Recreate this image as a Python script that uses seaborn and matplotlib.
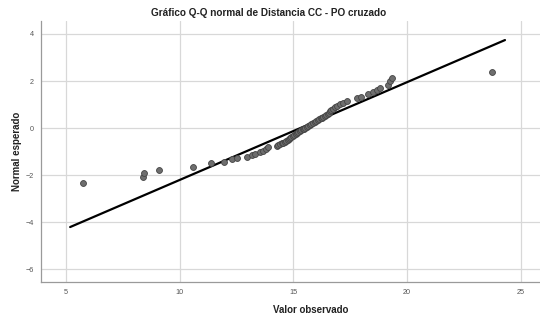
import numpy as np
import pandas as pd
import matplotlib
matplotlib.use("Agg")
import matplotlib.pyplot as plt
import seaborn as sns

# ==========================================
# datos (Q-Q normal)
# ==========================================
valor_observado = [
    5.73, 8.37, 8.44, 9.10, 10.60, 11.37, 11.96, 12.28, 12.53, 12.96,
    13.16, 13.33, 13.53, 13.67, 13.80, 13.90,
    14.26, 14.33, 14.41, 14.48, 14.55, 14.62, 14.68, 14.74, 14.80, 14.85,
    14.91, 14.97, 15.03, 15.09, 15.14, 15.20, 15.27, 15.34, 15.40, 15.46,
    15.52, 15.58, 15.64, 15.71, 15.78, 15.85, 15.93, 16.00, 16.07, 16.13,
    16.19, 16.26, 16.32, 16.38, 16.44, 16.50, 16.55, 16.60,
    16.66, 16.74, 16.82, 16.92, 17.04, 17.16, 17.34, 17.78, 17.95, 18.29,
    18.50, 18.66, 18.80, 19.17, 19.26, 19.32, 23.71,
]
normal_esperado = [
    -2.34, -2.06, -1.89, -1.77, -1.66, -1.50, -1.42, -1.33, -1.27, -1.21,
    -1.15, -1.08, -1.01, -0.95, -0.88, -0.82,
    -0.77, -0.73, -0.69, -0.65, -0.61, -0.57, -0.53, -0.49, -0.45, -0.41,
    -0.37, -0.33, -0.29, -0.25, -0.21, -0.17, -0.13, -0.09, -0.05, -0.02,
    0.02, 0.06, 0.10, 0.14, 0.17, 0.21, 0.25, 0.29, 0.33, 0.37,
    0.41, 0.45, 0.49, 0.53, 0.57, 0.61, 0.66, 0.71,
    0.76, 0.82, 0.88, 0.94, 1.01, 1.08, 1.16, 1.27, 1.34, 1.43,
    1.52, 1.61, 1.71, 1.84, 1.99, 2.12, 2.37,
]

# recta de referencia (extremos leidos)
recta_x = [5.18, 24.3]
recta_y = [-4.20, 3.74]

x_ticks = [5, 10, 15, 20, 25]
y_ticks = [-6, -4, -2, 0, 2, 4]

df = pd.DataFrame({"observado": valor_observado, "esperado": normal_esperado})
df_recta = pd.DataFrame({"x": recta_x, "y": recta_y})

# ==========================================
# grafico
# ==========================================
sns.set_theme(style="whitegrid")
plt.rcParams["font.family"] = ["Liberation Sans", "DejaVu Sans"]

fig = plt.figure(figsize=(5.4, 3.18), dpi=100)
ax = fig.add_axes([0.076, 0.112, 0.924, 0.822])

sns.lineplot(data=df_recta, x="x", y="y", ax=ax, color="black", linewidth=1.6)
sns.scatterplot(data=df, x="observado", y="esperado", ax=ax, s=18,
                color="#6e6e6e", edgecolor="#444444", linewidth=0.6, zorder=3)

ax.set_xlim(3.9, 25.84)
ax.set_ylim(-6.55, 4.55)
ax.set_xticks(x_ticks)
ax.set_yticks(y_ticks)
ax.grid(True, color="#d8d8d8", linewidth=0.9)
ax.set_axisbelow(True)

for s in ["top", "right"]:
    ax.spines[s].set_visible(False)
for s in ["left", "bottom"]:
    ax.spines[s].set_color("#9a9a9a")
    ax.spines[s].set_linewidth(0.9)

ax.tick_params(axis="both", labelsize=5.2, colors="#555555", length=3,
               width=0.6, pad=2, color="#9a9a9a")

ax.set_xlabel("Valor observado", fontsize=7, fontweight="bold", color="#222222")
ax.set_ylabel("Normal esperado", fontsize=7, fontweight="bold", color="#222222")
ax.xaxis.set_label_coords(0.540, -0.088)
ax.yaxis.set_label_coords(-0.038, 0.5)

fig.text(0.497, 0.96, "Gráfico Q-Q normal de Distancia CC - PO cruzado",
         ha="center", va="center", fontsize=7.2, fontweight="bold", color="#222222")

fig.savefig("out.png", dpi=100)
